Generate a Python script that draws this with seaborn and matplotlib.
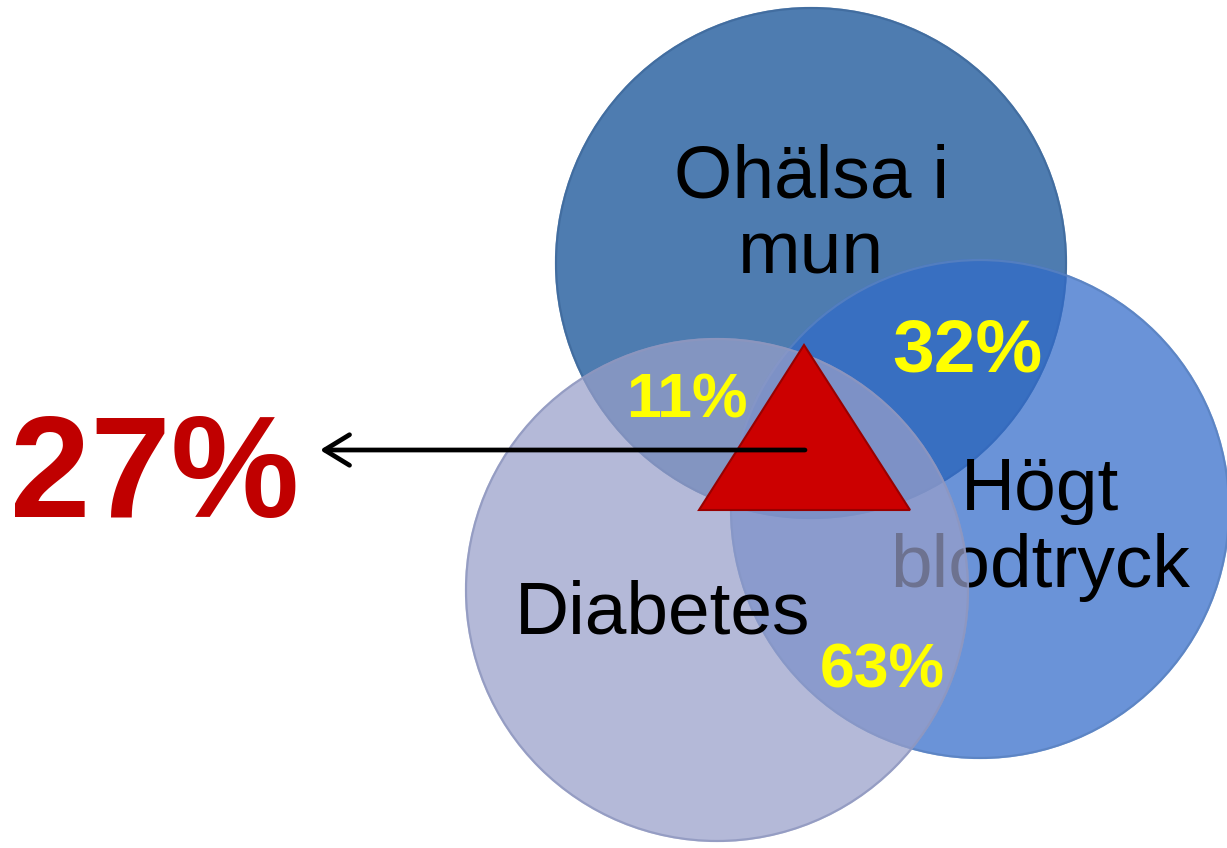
import matplotlib
matplotlib.use("Agg")
import matplotlib.pyplot as plt
from matplotlib.patches import Circle, Polygon
import seaborn as sns

# ---- data ----
set_names = ["Ohälsa i\nmun", "Högt\nblodtryck", "Diabetes"]
pair_labels = ["32%", "11%", "63%"]          # Ohälsa∩Högt, Ohälsa∩Diabetes, Högt∩Diabetes
center_label = "27%"                          # all three

# ---- style ----
sns.set_theme(style="white")
plt.rcParams["font.family"] = ["Liberation Sans", "DejaVu Sans"]

fill_colors = ["#4E7CB0", "#306AC9", "#989FC9"]
fill_alpha = [1.0, 0.72, 0.72]
edge_colors = ["#3F6A9C", "#5A82C0", "#8E96BE"]

# layout (pixel space)
centers = [(811, 263), (980, 509), (717, 590)]
radii = [256, 250, 252]

fig = plt.figure(figsize=(12.27, 8.48), dpi=100)
ax = fig.add_axes([0, 0, 1, 1])
ax.set_xlim(0, 1227)
ax.set_ylim(848, 0)
ax.set_axis_off()

z = [1, 2, 4]
for (cx, cy), r, fc, a, ec, zz in zip(centers, radii, fill_colors, fill_alpha, edge_colors, z):
    ax.add_patch(Circle((cx, cy), r, facecolor=fc, alpha=a, edgecolor="none", zorder=zz))
    ax.add_patch(Circle((cx, cy), r - 1, facecolor="none", edgecolor=ec, lw=1.6, alpha=0.8, zorder=zz))

# set labels
label_kw = dict(fontsize=54, color="black", ha="center", va="baseline")
l1 = set_names[0].split("\n")
ax.text(811, 197, l1[0], zorder=6, **label_kw)
ax.text(811, 273, l1[1], zorder=6, **label_kw)
l2 = set_names[1].split("\n")
ax.text(1040, 510, l2[0], zorder=3, **label_kw)
ax.text(1040, 587, l2[1], zorder=3, **label_kw)
ax.text(663, 633, set_names[2], zorder=6, **label_kw)

# overlap percentages
pct_kw = dict(color="#FFFF00", fontweight="bold", ha="center", va="baseline", zorder=7)
ax.text(967, 372, pair_labels[0], fontsize=54, **pct_kw)
ax.text(687, 417, pair_labels[1], fontsize=45, **pct_kw)
ax.text(882, 687, pair_labels[2], fontsize=45, **pct_kw)

# triangle for triple overlap
tri = Polygon([(804, 345), (699, 510), (910, 510)], closed=True,
              facecolor="#CC0000", edgecolor="#990000", lw=1.5, zorder=8)
ax.add_patch(tri)

# arrow
ax.annotate("", xy=(320, 450), xytext=(805, 450),
            arrowprops=dict(arrowstyle="->,head_length=0.9,head_width=0.55",
                            lw=3.4, color="black", mutation_scale=20,
                            shrinkA=0, shrinkB=0),
            zorder=9)

ax.text(155, 517, center_label, fontsize=104, fontweight="bold", color="#C00000",
        ha="center", va="baseline", zorder=9)

fig.savefig("out.png", dpi=100)
